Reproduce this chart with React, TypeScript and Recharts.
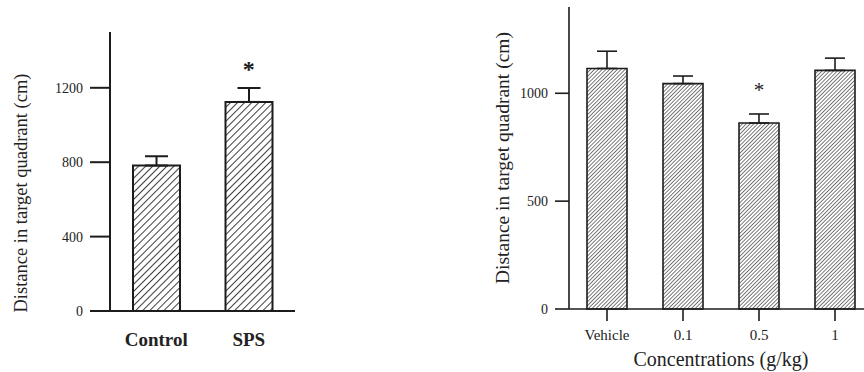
import React from "react";
import {
  ComposedChart,
  Bar,
  Line,
  XAxis,
  YAxis,
  ErrorBar,
  Label
} from "recharts";

// left panel: Control vs SPS
const groups = ["Control", "SPS"];
const groupMeans = [782, 1124];
const groupSem = [50, 75];
const groupStar = [null, 1320];
const groupTicks = [0, 400, 800, 1200];

// right panel: concentrations
const doses = ["Vehicle", "0.1", "0.5", "1"];
const doseMeans = [1115, 1045, 862, 1106];
const doseSem = [80, 35, 42, 57];
const doseStar = [null, null, 1030, null];
const doseTicks = [0, 500, 1000];

const leftData = groups.map((g, i) => ({
  name: g,
  mean: groupMeans[i],
  err: [0, groupSem[i]],
  star: groupStar[i]
}));

const rightData = doses.map((d, i) => ({
  name: d,
  mean: doseMeans[i],
  err: [0, doseSem[i]],
  star: doseStar[i]
}));

const serif = "Liberation Serif";
const ink = "#1c1c1c";
const textInk = "#222";

const starDot = (size: number, bold: boolean) => (props: any) => {
  const { cx, cy, value, index } = props;
  if (value == null || cy == null) return <g key={index} />;
  return (
    <text
      key={index}
      x={cx}
      y={cy + size * 0.47}
      textAnchor="middle"
      style={{ fontFamily: serif, fontSize: size, fontWeight: bold ? "bold" : "normal" }}
      fill={ink}
    >
      *
    </text>
  );
};

const rotatedTitle = (text: string, x: number, y: number, size: number) => () => (
  <text
    x={x}
    y={y}
    transform={`rotate(-90, ${x}, ${y})`}
    textAnchor="middle"
    dominantBaseline="central"
    style={{ fontFamily: serif, fontSize: size }}
    fill={textInk}
  >
    {text}
  </text>
);

export default function App() {
  return (
    <div
      style={{
        position: "fixed",
        left: 0,
        top: 0,
        width: 864,
        height: 372,
        overflow: "hidden",
        background: "#fff",
        fontFamily: serif
      }}
    >
      <svg width={0} height={0} style={{ position: "absolute" }}>
        <defs>
          <pattern
            id="hatchL"
            patternUnits="userSpaceOnUse"
            width={5}
            height={5}
            patternTransform="rotate(45)"
          >
            <rect width={5} height={5} fill="#fff" />
            <line x1={0} y1={0} x2={0} y2={5} stroke={ink} strokeWidth={1.7} />
          </pattern>
          <pattern
            id="hatchR"
            patternUnits="userSpaceOnUse"
            width={2.7}
            height={2.7}
            patternTransform="rotate(45)"
          >
            <rect width={2.7} height={2.7} fill="#fff" />
            <line x1={0} y1={0} x2={0} y2={2.7} stroke="#222" strokeWidth={1.2} />
          </pattern>
        </defs>
      </svg>

      <div style={{ position: "absolute", left: 0, top: 0 }}>
        <ComposedChart
          width={310}
          height={372}
          data={leftData}
          margin={{ top: 32, right: 15, bottom: 31, left: 0 }}
        >
          <XAxis
            dataKey="name"
            axisLine={{ stroke: ink, strokeWidth: 2 }}
            tickLine={false}
            tickSize={20}
            tickMargin={2}
            height={30}
            tick={{ fill: textInk, style: { fontFamily: serif, fontSize: 19, fontWeight: "bold" } }}
          />
          <YAxis
            width={110}
            domain={[0, 1500]}
            ticks={groupTicks}
            interval={0}
            axisLine={{ stroke: ink, strokeWidth: 2 }}
            tickLine={{ stroke: ink, strokeWidth: 2 }}
            tickSize={20}
            tickMargin={7}
            tick={{ fill: textInk, style: { fontFamily: serif, fontSize: 14 } }}
          >
            <Label content={rotatedTitle("Distance in target quadrant (cm)", 21, 193, 18.5)} />
          </YAxis>
          <Bar
            dataKey="mean"
            barSize={47}
            fill="url(#hatchL)"
            stroke={ink}
            strokeWidth={2}
            isAnimationActive={false}
          >
            <ErrorBar
              dataKey="err"
              direction="y"
              width={11.5}
              stroke={ink}
              strokeWidth={2}
              isAnimationActive={false}
            />
          </Bar>
          <Line
            dataKey="star"
            stroke="none"
            dot={starDot(24, true)}
            activeDot={false}
            isAnimationActive={false}
          />
        </ComposedChart>
      </div>

      <div style={{ position: "absolute", left: 480, top: 0 }}>
        <ComposedChart
          width={400}
          height={372}
          data={rightData}
          margin={{ top: 7, right: 7, bottom: 23, left: 0 }}
        >
          <XAxis
            dataKey="name"
            axisLine={{ stroke: ink, strokeWidth: 1.6 }}
            tickLine={{ stroke: ink, strokeWidth: 1.6 }}
            tickSize={12}
            tickMargin={8}
            height={40}
            tick={{ fill: textInk, style: { fontFamily: serif, fontSize: 15 } }}
          >
            <Label content={() => (
              <text
                x={241}
                y={359}
                textAnchor="middle"
                dominantBaseline="central"
                style={{ fontFamily: serif, fontSize: 20 }}
                fill={textInk}
              >
                Concentrations (g/kg)
              </text>
            )} />
          </XAxis>
          <YAxis
            width={89}
            domain={[0, 1400]}
            ticks={doseTicks}
            interval={0}
            axisLine={{ stroke: ink, strokeWidth: 1.6 }}
            tickLine={{ stroke: ink, strokeWidth: 1.6 }}
            tickSize={14}
            tickMargin={7}
            tick={{ fill: textInk, style: { fontFamily: serif, fontSize: 14 } }}
          >
            <Label content={rotatedTitle("Distance in target quadrant (cm)", 22, 158, 19.5)} />
          </YAxis>
          <Bar
            dataKey="mean"
            barSize={40}
            fill="url(#hatchR)"
            stroke={ink}
            strokeWidth={1.6}
            isAnimationActive={false}
          >
            <ErrorBar
              dataKey="err"
              direction="y"
              width={10}
              stroke={ink}
              strokeWidth={1.6}
              isAnimationActive={false}
            />
          </Bar>
          <Line
            dataKey="star"
            stroke="none"
            dot={starDot(21, false)}
            activeDot={false}
            isAnimationActive={false}
          />
        </ComposedChart>
      </div>
    </div>
  );
}
